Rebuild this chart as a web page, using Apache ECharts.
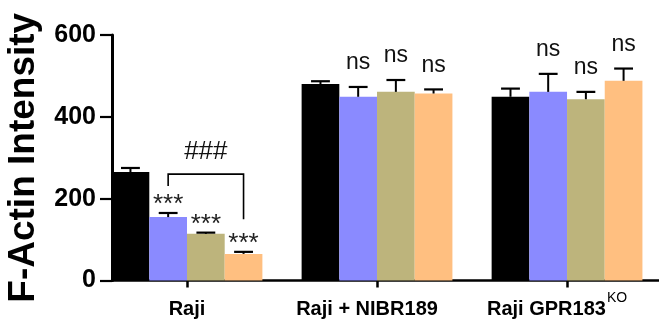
<!DOCTYPE html>
<html>
<head>
<meta charset="utf-8">
<script src="https://cdn.jsdelivr.net/npm/echarts@6/dist/echarts.min.js"></script>
<style>
html,body{margin:0;padding:0;background:#fff;}
#chart{width:659px;height:326px;}
</style>
</head>
<body>
<div id="chart"></div>
<script>
// ---- data ----
const categories = ['Raji', 'Raji + NIBR189', 'Raji GPR183'];
const categorySup = ['', '', 'KO'];
const seriesNames = ['Control', 'Condition 2', 'Condition 3', 'Condition 4'];
const blackValues  = [265, 480, 449];
const blackErrors  = [10, 7, 20];
const blueValues   = [155, 449, 461];
const blueErrors   = [10, 24, 44];
const tanValues    = [114, 461, 443];
const tanErrors    = [3, 29, 18];
const orangeValues = [65, 457, 488];
const orangeErrors = [5, 10, 30];
const blackMarks   = ['', '', ''];
const blueMarks    = ['***', 'ns', 'ns'];
const tanMarks     = ['***', 'ns', 'ns'];
const orangeMarks  = ['***', 'ns', 'ns'];
const yTicks = [0, 200, 400, 600];
const yTitle = 'F-Actin Intensity';
// bracket: group 0, from series 1 to series 3; line level, left end, right end
const bracketLevel = [260, 231, 150];
const bracketLabel = '###';

// ---- styles ----
const FONT = '"Liberation Sans", Arial, Helvetica, sans-serif';
const colors = ['#000000', '#8a8aff', '#bdb47c', '#ffbf80'];
const barW = 0.1984; // bar width in category units
const groups = [
  [blackValues, blackErrors, blackMarks],
  [blueValues, blueErrors, blueMarks],
  [tanValues, tanErrors, tanMarks],
  [orangeValues, orangeErrors, orangeMarks]
];
function offsetOf(s) { return (s - 1.5) * barW; }

function makeSeries(s) {
  const [vals, errs, marks] = groups[s];
  const data = vals.map((v, i) => [i + 1, v, errs[i]]);
  return {
    type: 'custom',
    name: seriesNames[s],
    data: data,
    renderItem: function (params, api) {
      const g = api.value(0), v = api.value(1), e = api.value(2);
      const xc = g + offsetOf(s);
      const pL = api.coord([xc - barW / 2, 0]);
      const pR = api.coord([xc + barW / 2, v]);
      const pc = api.coord([xc, v]);
      const pe = api.coord([xc, v + e]);
      const w = pR[0] - pL[0];
      const children = [
        { type: 'rect', shape: { x: pL[0], y: pR[1], width: w, height: pL[1] - pR[1] },
          style: { fill: colors[s] } },
        { type: 'line', shape: { x1: pc[0], y1: pc[1], x2: pe[0], y2: pe[1] },
          style: { stroke: '#000', lineWidth: 2 } },
        { type: 'line', shape: { x1: pc[0] - w / 4, y1: pe[1], x2: pc[0] + w / 4, y2: pe[1] },
          style: { stroke: '#000', lineWidth: 2.2 } }
      ];
      const m = marks[params.dataIndex];
      if (m) {
        const star = m.indexOf('*') >= 0;
        children.push({
          type: 'text',
          style: {
            text: m, x: pc[0], y: pe[1] - (star ? 8 : 24),
            align: 'center', verticalAlign: 'middle',
            font: (star ? '26px ' : '23px ') + FONT, fill: star ? '#222' : '#111'
          }
        });
      }
      return { type: 'group', children: children };
    }
  };
}

const bracketSeries = {
  type: 'custom',
  data: [[1, bracketLevel[0], bracketLevel[1], bracketLevel[2]]],
  z: 5,
  renderItem: function (params, api) {
    const g = api.value(0);
    const xa = g + offsetOf(1), xb = g + offsetOf(3);
    const a0 = api.coord([xa, api.value(2)]);
    const a1 = api.coord([xa, api.value(1)]);
    const b1 = api.coord([xb, api.value(1)]);
    const b0 = api.coord([xb, api.value(3)]);
    return { type: 'group', children: [
      { type: 'polyline', shape: { points: [a0, a1, b1, b0] },
        style: { stroke: '#000', lineWidth: 1.6, fill: null } },
      { type: 'text', style: { text: bracketLabel, x: (a1[0] + b1[0]) / 2, y: a1[1] - 22,
        align: 'center', verticalAlign: 'middle', font: '26px ' + FONT, fill: '#111' } }
    ]};
  }
};

const chart = echarts.init(document.getElementById('chart'), null, { renderer: 'canvas' });
chart.setOption({
  animation: false,
  backgroundColor: '#fff',
  grid: { left: 112, right: 0, top: 35, bottom: 45.5, containLabel: false, outerBoundsMode: 'none' },
  xAxis: {
    type: 'value',
    min: 0.6053, max: 3.484,
    splitLine: { show: false },
    axisLine: { show: true, onZero: false, lineStyle: { color: '#000', width: 2.5 } },
    axisTick: { show: true, length: 7, lineStyle: { color: '#000', width: 2.5 }, customValues: [1, 2, 3] },
    axisLabel: {
      customValues: [1, 2, 3],
      margin: 11,
      formatter: function (val) {
        const i = Math.round(val) - 1;
        let s = '{b|' + categories[i] + '}';
        if (categorySup[i]) s += '{sup|' + categorySup[i] + '}';
        if (i > 0) s += '{pad| }';
        return s;
      },
      rich: {
        b: { fontFamily: FONT, fontSize: 20, fontWeight: 'bold', color: '#000', lineHeight: 28, verticalAlign: 'bottom' },
        sup: { fontFamily: FONT, fontSize: 14, fontWeight: 'normal', color: '#000', lineHeight: 28, verticalAlign: 'bottom', padding: [0, 0, 14, 1] },
        pad: { fontSize: 2, width: 20, lineHeight: 28, verticalAlign: 'bottom' }
      }
    }
  },
  yAxis: {
    type: 'value',
    min: yTicks[0], max: yTicks[yTicks.length - 1], interval: yTicks[1] - yTicks[0],
    name: yTitle, nameLocation: 'middle', nameGap: 70, nameRotate: 90,
    nameTextStyle: { fontFamily: FONT, fontSize: 37, fontWeight: 'bold', color: '#000' },
    splitLine: { show: false },
    axisLine: { show: true, lineStyle: { color: '#000', width: 3 } },
    axisTick: { show: true, length: 12, lineStyle: { color: '#000', width: 2.2 } },
    axisLabel: { margin: 16, fontFamily: FONT, fontSize: 25, fontWeight: 'bold', color: '#000' }
  },
  series: [makeSeries(0), makeSeries(1), makeSeries(2), makeSeries(3), bracketSeries]
});
</script>
</body>
</html>
